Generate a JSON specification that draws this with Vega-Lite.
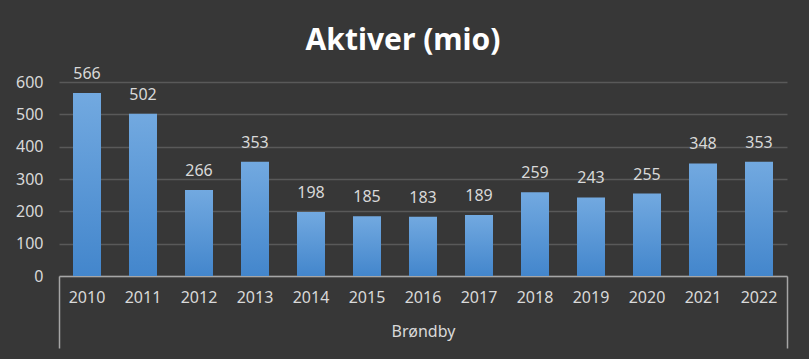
{
  "$schema": "https://vega.github.io/schema/vega-lite/v6.json",
  "autosize": "none",
  "width": 728,
  "height": 194,
  "padding": {"left": 59, "top": 82, "right": 22, "bottom": 83},
  "background": "#373737",
  "title": {
    "text": "Aktiver (mio)",
    "font": "Noto Sans",
    "fontSize": 30,
    "fontWeight": "bold",
    "color": "#ffffff",
    "anchor": "middle",
    "frame": "group",
    "dx": -20,
    "offset": 10
  },
  "config": {
    "view": {"stroke": null},
    "font": "Noto Sans",
    "axis": {"labelFont": "Noto Sans", "labelColor": "#d9d9d9", "labelFontSize": 16}
  },
  "resolve": {"scale": {"x": "independent"}},
  "layer": [
    {
      "data": {
        "values": [
          {"year": "2010", "value": 566},
          {"year": "2011", "value": 502},
          {"year": "2012", "value": 266},
          {"year": "2013", "value": 353},
          {"year": "2014", "value": 198},
          {"year": "2015", "value": 185},
          {"year": "2016", "value": 183},
          {"year": "2017", "value": 189},
          {"year": "2018", "value": 259},
          {"year": "2019", "value": 243},
          {"year": "2020", "value": 255},
          {"year": "2021", "value": 348},
          {"year": "2022", "value": 353}
        ]
      },
      "encoding": {
        "x": {
          "field": "year",
          "type": "ordinal",
          "scale": {"paddingInner": 0.5, "paddingOuter": 0.25},
          "axis": {
            "title": null,
            "labelAngle": 0,
            "ticks": false,
            "tickSize": 0,
            "labelPadding": 13,
            "domainColor": "#a6a6a6",
            "domainWidth": 1.5,
            "grid": false
          }
        },
        "y": {
          "field": "value",
          "type": "quantitative",
          "scale": {"domain": [0, 600]},
          "axis": {
            "title": null,
            "values": [0, 100, 200, 300, 400, 500, 600],
            "domain": false,
            "ticks": false,
            "tickSize": 0,
            "labelPadding": 16,
            "grid": true,
            "gridColor": "#595959",
            "gridWidth": 1.5
          }
        }
      },
      "layer": [
        {
          "mark": {
            "type": "bar",
            "color": {
              "gradient": "linear",
              "x1": 0, "y1": 0, "x2": 0, "y2": 1,
              "stops": [
                {"offset": 0, "color": "#72a9e0"},
                {"offset": 1, "color": "#4386cc"}
              ]
            }
          }
        },
        {
          "mark": {
            "type": "text",
            "baseline": "alphabetic",
            "dy": -14,
            "fontSize": 16,
            "color": "#d9d9d9",
            "font": "Noto Sans"
          },
          "encoding": {"text": {"field": "value", "type": "quantitative"}}
        }
      ]
    },
    {
      "data": {"values": [{"g": "Brøndby"}]},
      "mark": {"type": "bar", "opacity": 0},
      "encoding": {
        "x": {
          "field": "g",
          "type": "nominal",
          "scale": {"paddingInner": 0, "paddingOuter": 0},
          "axis": {
            "orient": "bottom",
            "title": null,
            "domain": false,
            "grid": false,
            "ticks": true,
            "tickBand": "extent",
            "tickSize": 72,
            "tickColor": "#a6a6a6",
            "tickWidth": 1.5,
            "labelPadding": -25,
            "labelAngle": 0
          }
        }
      }
    }
  ]
}
